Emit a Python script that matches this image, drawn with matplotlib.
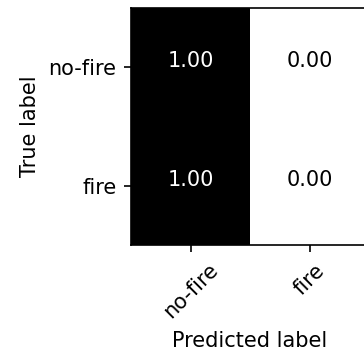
import matplotlib
matplotlib.use('Agg')
import matplotlib.pyplot as plt
import numpy as np

classes = ['no-fire', 'fire']
cm = np.array([[1.00, 0.00],
               [1.00, 0.00]])

DPI = 150
fig = plt.figure(figsize=(364 / DPI, 354 / DPI), dpi=DPI)
ax = fig.add_axes([131 / 364, 108 / 354, 238 / 364, 239 / 354])
ax.imshow(cm, interpolation='nearest', cmap=plt.cm.Greys, vmin=0, vmax=1)

ax.set_xticks(np.arange(len(classes)))
ax.set_yticks(np.arange(len(classes)))
ax.set_xticklabels(classes, rotation=45)
ax.set_yticklabels(classes)
ax.set_xlabel('Predicted label')
ax.set_ylabel('True label')

thresh = cm.max() / 2.
for i in range(cm.shape[0]):
    for j in range(cm.shape[1]):
        ax.text(j, i, format(cm[i, j], '.2f'), ha='center',
                color='white' if cm[i, j] > thresh else 'black')

fig.savefig('out.png', dpi=DPI)
